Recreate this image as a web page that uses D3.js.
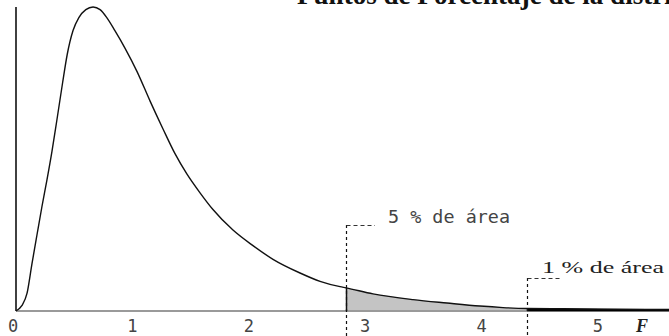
<!DOCTYPE html>
<html><head><meta charset="utf-8">
<script src="https://cdn.jsdelivr.net/npm/d3@7"></script>
<style>html,body{margin:0;padding:0;background:#fff;overflow:hidden}</style>
</head><body>
<svg id="chart" width="669" height="336"></svg>
<script>
// Curve: F value and density
const fValues = [0, 0.05, 0.095, 0.137, 0.180, 0.223, 0.266, 0.309, 0.350, 0.400, 0.440, 0.490, 0.540, 0.600, 0.662, 0.722, 0.780, 0.851, 0.936, 1.040, 1.151, 1.263, 1.366, 1.469, 1.581, 1.692, 1.864, 2.036, 2.208, 2.440, 2.612, 2.784, 2.835, 3.067, 3.411, 3.703, 3.986, 4.184, 4.390, 4.700, 5.030, 5.610];
const density = [0, 0.014, 0.047, 0.124, 0.200, 0.275, 0.345, 0.420, 0.500, 0.600, 0.675, 0.738, 0.772, 0.793, 0.800, 0.793, 0.772, 0.737, 0.692, 0.630, 0.553, 0.479, 0.414, 0.360, 0.311, 0.267, 0.213, 0.172, 0.136, 0.100, 0.078, 0.064, 0.061, 0.045, 0.030, 0.021, 0.013, 0.009, 0.0066, 0.0058, 0.005, 0.003];
const tickValues = [0, 1, 2, 3, 4, 5];
const tickLabels = ["0", "1", "2", "3", "4", "5"];
const critical = [2.835, 4.39];
const critLabels = ["5 % de área", "1 % de área"];
const titleText = "Puntos de Porcentaje de la distribución F";
const axisLabel = "F";

const svg = d3.select("#chart");
const x = d3.scaleLinear().domain([0, 5.61]).range([16, 669]);
const y = d3.scaleLinear().domain([0, 0.8]).range([311, 7]);
const pts = fValues.map((f, i) => ({f, d: density[i]}));

function dAt(f) {
  for (let i = 1; i < pts.length; i++) {
    if (f <= pts[i].f) {
      const a = pts[i-1], b = pts[i];
      const t = (f - a.f) / (b.f - a.f);
      return a.d + t * (b.d - a.d);
    }
  }
  return pts[pts.length-1].d;
}

const area = d3.area().x(p => x(p.f)).y0(y(0)).y1(p => y(p.d));
const region5 = [{f: critical[0], d: dAt(critical[0])}, ...pts.filter(p => p.f > critical[0] && p.f < critical[1]), {f: critical[1], d: dAt(critical[1])}];
const region1 = [{f: critical[1], d: dAt(critical[1])}, ...pts.filter(p => p.f > critical[1])];

svg.append("path").attr("d", area(region5)).attr("fill", "#c4c4c4");

// baseline
svg.append("line").attr("x1", x(0)).attr("x2", 669).attr("y1", y(0)).attr("y2", y(0))
  .attr("stroke", "#9a9a9a").attr("stroke-width", 2);

svg.append("path").attr("d", area(region1)).attr("fill", "#111");
svg.append("line").attr("x1", x(critical[1])).attr("x2", 669).attr("y1", y(0) - 1).attr("y2", y(0) - 1)
  .attr("stroke", "#000").attr("stroke-width", 2.5);

// y axis
svg.append("line").attr("x1", x(0)).attr("x2", x(0)).attr("y1", y(0.8)).attr("y2", y(0))
  .attr("stroke", "#111").attr("stroke-width", 1.6);

// curve
const line = d3.line().x(p => x(p.f)).y(p => y(p.d)).curve(d3.curveMonotoneX);
svg.append("path").attr("d", line(pts)).attr("fill", "none").attr("stroke", "#111").attr("stroke-width", 1.4);

// critical markers
const labelTops = [225, 278];
const hookEnds = [375, 560];
critical.forEach((c, i) => {
  const cx = Math.round(x(c)) + 0.5;
  svg.append("line").attr("x1", cx).attr("x2", cx).attr("y1", labelTops[i]).attr("y2", 336)
    .attr("stroke", "#111").attr("stroke-width", 1.2).attr("stroke-dasharray", "3,3");
  svg.append("line").attr("x1", cx).attr("x2", cx).attr("y1", y(dAt(c))).attr("y2", y(0))
    .attr("stroke", "#111").attr("stroke-width", 1.5);
  svg.append("line").attr("x1", cx).attr("x2", hookEnds[i]).attr("y1", labelTops[i] + 0.5).attr("y2", labelTops[i] + 0.5)
    .attr("stroke", "#333").attr("stroke-width", 1.1).attr("stroke-dasharray", "4,3");
});

svg.append("text").attr("x", 388).attr("y", 223).text(critLabels[0])
  .attr("font-family", "DejaVu Sans Mono").attr("font-size", 18).attr("fill", "#444")
  .attr("textLength", 122).attr("lengthAdjust", "spacingAndGlyphs");
svg.append("text").attr("x", 542).attr("y", 273).text(critLabels[1])
  .attr("font-family", "Liberation Serif").attr("font-size", 17).attr("fill", "#222")
  .attr("textLength", 122).attr("lengthAdjust", "spacingAndGlyphs");

// tick labels
svg.selectAll(".tick").data(tickValues).enter().append("text")
  .attr("x", (t, i) => x(t) + (i === 0 ? -3 : 0)).attr("y", 332)
  .attr("text-anchor", "middle").attr("font-family", "DejaVu Sans Mono").attr("font-size", 17)
  .attr("fill", "#444").text((t, i) => tickLabels[i]);
svg.append("text").attr("x", 642).attr("y", 332).attr("text-anchor", "middle")
  .attr("font-family", "Liberation Serif").attr("font-style", "italic").attr("font-weight", "bold")
  .attr("font-size", 18).attr("fill", "#222").text(axisLabel);

// title (cut off at top, as in the reference)
const title = svg.append("text").attr("x", 297).attr("y", 4)
  .attr("font-family", "Liberation Serif").attr("font-weight", "bold").attr("font-size", 22)
  .attr("fill", "#111").text("Puntos de Porcentaje de la distri");
const w = title.node().getComputedTextLength();
title.attr("font-size", 22 * 375 / w).text(titleText);
</script>
</body></html>
